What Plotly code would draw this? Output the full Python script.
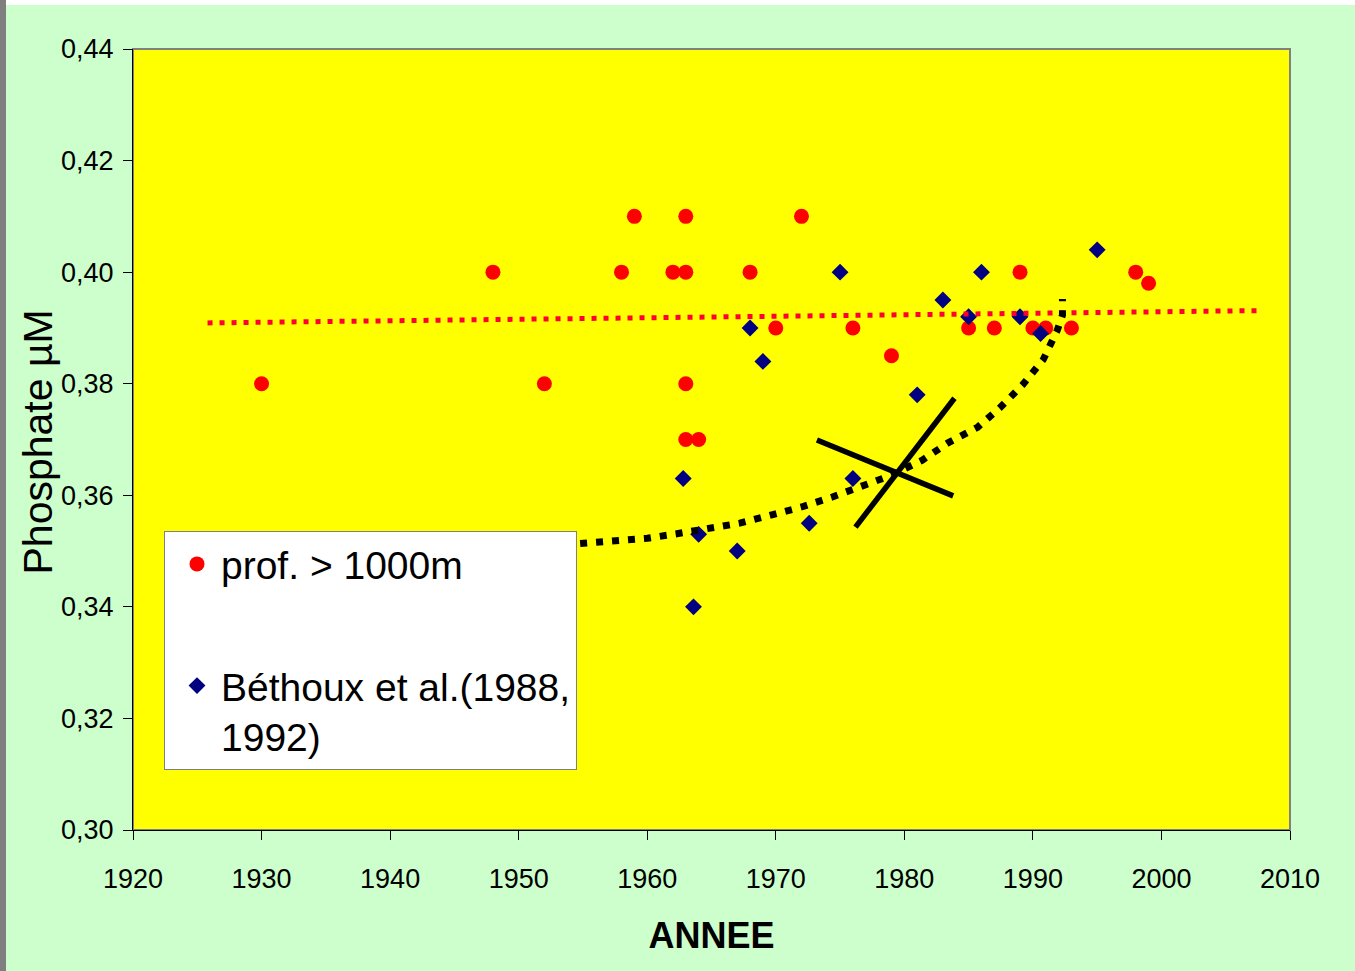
import plotly.graph_objects as go

# Deep-water phosphate (> 1000 m)
red_years = [1930, 1948, 1952, 1958, 1959, 1962, 1963, 1963, 1963, 1963, 1964, 1968,
             1970, 1972, 1976, 1979, 1985, 1987, 1989, 1990, 1991, 1993, 1998, 1999]
red_vals = [0.380, 0.400, 0.380, 0.400, 0.410, 0.400, 0.410, 0.400, 0.380, 0.370, 0.370, 0.400,
            0.390, 0.410, 0.390, 0.385, 0.390, 0.390, 0.400, 0.390, 0.390, 0.390, 0.400, 0.398]

# Béthoux et al. (1988, 1992)
blue_years = [1962.8, 1963.6, 1964, 1967, 1968, 1969, 1972.6, 1975, 1976, 1981,
              1983, 1985, 1986, 1989, 1990.6, 1995]
blue_vals = [0.363, 0.340, 0.353, 0.350, 0.390, 0.384, 0.355, 0.400, 0.363, 0.378,
             0.395, 0.392, 0.400, 0.392, 0.389, 0.404]

# Linear trend of the deep-water series
trend_years = [1925.8, 2007.4]
trend_vals = [0.3909, 0.3931]

# Rising curve through the Béthoux data
curve_years = [1952.3, 1954.9, 1957.3, 1960.0, 1962.3, 1964.7, 1967.2, 1969.7, 1972.0,
               1974.4, 1976.7, 1979.0, 1981.4, 1983.4, 1985.7, 1987.4, 1989.2, 1990.8,
               1991.9, 1992.3, 1992.3]
curve_vals = [0.3509, 0.3513, 0.3516, 0.3523, 0.3531, 0.3541, 0.3550, 0.3565, 0.3579,
              0.3597, 0.3617, 0.3636, 0.3663, 0.3694, 0.3722, 0.3756, 0.3798, 0.3843,
              0.3896, 0.3923, 0.3952]

# Cross marking the curve
cross_a_years = [1973.2, 1983.8]
cross_a_vals = [0.3699, 0.3599]
cross_b_years = [1976.2, 1983.9]
cross_b_vals = [0.3543, 0.3774]

x_ticks = [1920, 1930, 1940, 1950, 1960, 1970, 1980, 1990, 2000, 2010]
y_ticks = [0.30, 0.32, 0.34, 0.36, 0.38, 0.40, 0.42, 0.44]

FONT = "Liberation Sans, Arial, sans-serif"

fig = go.Figure()

fig.add_trace(go.Scatter(
    x=red_years, y=red_vals, mode="markers", name="prof. > 1000m",
    legendgroup="a",
    marker=dict(symbol="circle", size=15, color="#FF0000", line=dict(width=0)),
))
fig.add_trace(go.Scatter(
    x=blue_years, y=blue_vals, mode="markers", name="Béthoux et al.(1988,<br>1992)",
    legendgroup="b",
    marker=dict(symbol="diamond", size=13, color="#000080", line=dict(width=0)),
))
fig.add_trace(go.Scatter(
    x=trend_years, y=trend_vals, mode="lines", showlegend=False, hoverinfo="skip",
    line=dict(color="#FF0033", width=5, dash="5px,7px"),
))
fig.add_trace(go.Scatter(
    x=curve_years, y=curve_vals, mode="lines", showlegend=False, hoverinfo="skip",
    line=dict(color="#000000", width=7, dash="7px,9px"),
))
for xs, ys in [(cross_a_years, cross_a_vals), (cross_b_years, cross_b_vals)]:
    fig.add_trace(go.Scatter(
        x=xs, y=ys, mode="lines", showlegend=False, hoverinfo="skip",
        line=dict(color="#000000", width=5.5),
    ))

# Frame: grey border around the plot area, strip and bar at the page edges
fig.add_shape(type="rect", xref="paper", yref="paper", x0=0, x1=1, y0=0, y1=1,
              line=dict(color="#808080", width=2), layer="below")
fig.add_shape(type="rect", xref="paper", yref="paper", xsizemode="pixel", ysizemode="pixel",
              xanchor=0, yanchor=1, x0=-133, x1=1230, y0=49, y1=44,
              fillcolor="#FFFFFF", line=dict(width=0))
fig.add_shape(type="rect", xref="paper", yref="paper", xsizemode="pixel", ysizemode="pixel",
              xanchor=0, yanchor=0, x0=-133, x1=-127, y0=-150, y1=60 + 781,
              fillcolor="#7F7F7F", line=dict(width=0))

# Vertical axis title
fig.add_annotation(
    text="Phosphate µM", textangle=-90, showarrow=False,
    xref="paper", yref="paper", x=0, y=0.5, xanchor="center", yanchor="middle",
    xshift=-96, yshift=-3,
    font=dict(family=FONT, size=41, color="#000000"),
)

fig.update_layout(
    width=1355, height=971,
    margin=dict(l=133, r=65, t=49, b=141),
    paper_bgcolor="#CCFFCC",
    plot_bgcolor="#FFFF00",
    separators=",.",
    showlegend=True,
    legend=dict(
        x=0.0268, y=0.3828, xanchor="left", yanchor="top",
        bgcolor="#FFFFFF", bordercolor="#808080", borderwidth=1,
        font=dict(family=FONT, size=39, color="#000000"),
        traceorder="grouped", tracegroupgap=68,
        valign="top", itemwidth=38, indentation=8,
    ),
    xaxis=dict(
        range=[1920, 2010], tickvals=x_ticks, ticktext=[str(v) for v in x_ticks],
        showgrid=False, zeroline=False,
        showline=True, linecolor="#000000", linewidth=1,
        ticks="outside", ticklen=9, tickcolor="#000000", tickwidth=1,
        tickfont=dict(family=FONT, size=27, color="#000000"),
        ticklabelstandoff=16,
        title=dict(text="<b>ANNEE</b>", font=dict(family=FONT, size=36, color="#000000"),
                   standoff=29),
    ),
    yaxis=dict(
        range=[0.30, 0.44], tickvals=y_ticks, tickformat=".2f",
        showgrid=False, zeroline=False,
        showline=True, linecolor="#000000", linewidth=1,
        ticks="outside", ticklen=9, tickcolor="#000000", tickwidth=1,
        tickfont=dict(family=FONT, size=27, color="#000000"),
        ticklabelstandoff=4,
    ),
)

fig.write_html("out.html")
